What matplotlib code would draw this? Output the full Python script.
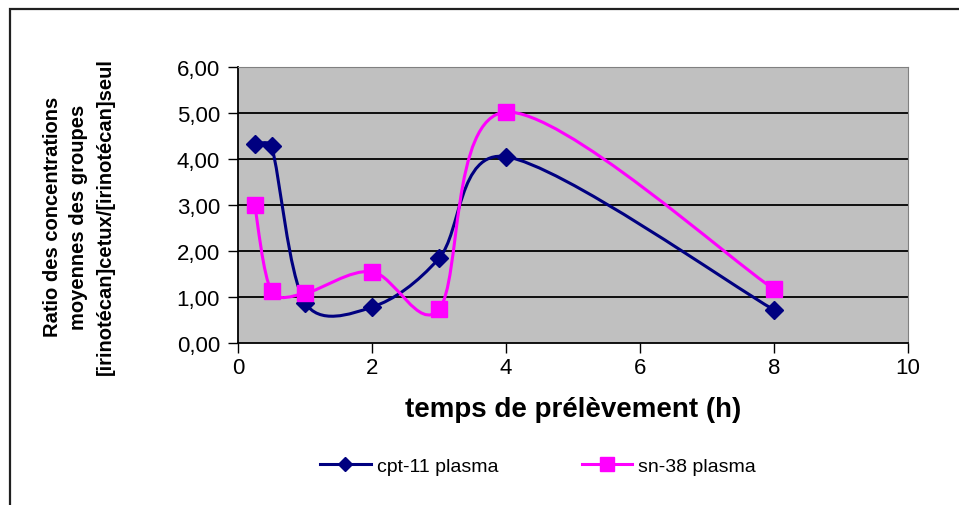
import matplotlib
matplotlib.use("Agg")
import matplotlib.pyplot as plt
from matplotlib.path import Path
from matplotlib.patches import PathPatch, Rectangle
from matplotlib.lines import Line2D
from matplotlib.ticker import FuncFormatter
import numpy as np

plt.rcParams['font.family'] = ['Liberation Sans', 'DejaVu Sans']

# sampling times (h) and concentration ratios
temps = [0.25, 0.5, 1, 2, 3, 4, 8]
cpt11 = [4.33, 4.28, 0.88, 0.78, 1.84, 4.05, 0.72]
sn38 = [2.99, 1.13, 1.08, 1.55, 0.73, 5.02, 1.17]

series_names = ['cpt-11 plasma', 'sn-38 plasma']
series_colors = ['#000080', '#FF00FF']
series_markers = ['D', 's']

x_ticks = [0, 2, 4, 6, 8, 10]
y_ticks = [0, 1, 2, 3, 4, 5, 6]


def smooth_path(xs, ys, sx, sy, cap=0.4):
    # catmull-rom style bezier, handles capped on short segments
    p = np.column_stack([np.asarray(xs) * sx, np.asarray(ys) * sy])
    n = len(p)
    verts = [p[0]]
    codes = [Path.MOVETO]
    for i in range(n - 1):
        L = np.hypot(*(p[i + 1] - p[i]))
        prev = p[i - 1] if i > 0 else p[i]
        nxt = p[i + 2] if i + 2 < n else p[i + 1]
        h1 = (p[i + 1] - prev) / 6.0
        h2 = (nxt - p[i]) / 6.0
        for h in (h1, h2):
            hl = np.hypot(*h)
            if hl > cap * L:
                h *= cap * L / hl
        verts += [p[i] + h1, p[i + 1] - h2, p[i + 1]]
        codes += [Path.CURVE4] * 3
    verts = np.array(verts) / np.array([sx, sy])
    return Path(verts, codes)


fig = plt.figure(figsize=(9.59, 5.06), dpi=100)
fig.patch.set_facecolor('white')

# outer chart border (only top/left fall inside the image)
fig.patches.append(Rectangle((10 / 959, -0.1), 1.2, 1 - 10 / 506 + 0.1,
                             transform=fig.transFigure, fill=False,
                             edgecolor='#202020', linewidth=1.6))

ax = fig.add_axes([238 / 959, 1 - 344 / 506, 670 / 959, 276 / 506])
ax.set_facecolor('#C0C0C0')
ax.set_xlim(0, 10)
ax.set_ylim(0, 6)
ax.set_xticks(x_ticks)
ax.set_yticks(y_ticks)
ax.yaxis.set_major_formatter(FuncFormatter(lambda v, _: ('%.2f' % v).replace('.', ',')))
ax.tick_params(axis='both', labelsize=16, length=7, width=1, direction='out')
ax.tick_params(axis='y', pad=6)
ax.tick_params(axis='x', pad=3)
for yv in y_ticks[1:]:
    ax.axhline(yv, color='black', linewidth=1.3, zorder=1)

for side in ['top', 'right']:
    ax.spines[side].set_color('#808080')
for side in ['left', 'bottom']:
    ax.spines[side].set_color('black')
    ax.spines[side].set_linewidth(1.3)

sx, sy = 67.0, 46.0
handles = []
for vals, name, col, mk in zip([cpt11, sn38], series_names, series_colors, series_markers):
    ax.add_patch(PathPatch(smooth_path(temps, vals, sx, sy), fill=False,
                           edgecolor=col, linewidth=2.2, zorder=3))
    ms = 9.5 if mk == 'D' else 11
    ax.plot(temps, vals, linestyle='none', marker=mk, markersize=ms,
            color=col, markeredgecolor=col, zorder=4, clip_on=False)
    handles.append(Line2D([], [], color=col, linewidth=2.2, marker=mk,
                          markersize=7 if mk == 'D' else 10, markeredgecolor=col))

ax.set_xlabel('temps de prélèvement (h)', fontsize=20, fontweight='bold', labelpad=13)
fig.text(79 / 959, 1 - 217 / 506,
         'Ratio des concentrations\nmoyennes des groupes\n[irinotécan]cetux/[irinotécan]seul',
         rotation=90, ha='center', va='center', fontsize=14.5, fontweight='bold',
         linespacing=1.5)

fig.legend(handles, series_names, loc='center', bbox_to_anchor=(0.561, 0.077),
           ncol=2, frameon=False, fontsize=14, columnspacing=4.3,
           handlelength=2.6, handletextpad=0.3)

fig.savefig('out.png', dpi=100, facecolor='white')
